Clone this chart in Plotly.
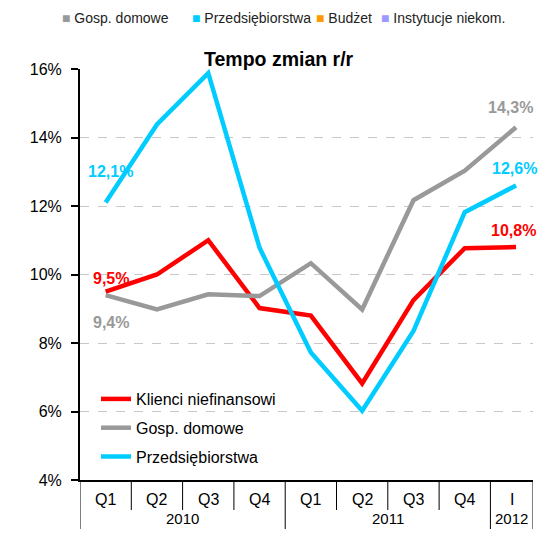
import plotly.graph_objects as go

quarters = ["Q1", "Q2", "Q3", "Q4", "Q1", "Q2", "Q3", "Q4", "I"]
years = ["2010", "2011", "2012"]
klienci = [9.5, 10.0, 11.0, 9.02, 8.8, 6.82, 9.25, 10.77, 10.8]
gosp = [9.4, 8.98, 9.42, 9.37, 10.33, 8.98, 12.17, 13.03, 14.3]
przeds = [12.1, 14.38, 15.88, 10.78, 7.72, 6.02, 8.35, 11.82, 12.6]

RED = "#FF0000"
GRAY = "#999999"
CYAN = "#00CCFF"
FONT = "Liberation Sans, Arial, sans-serif"

# page body has an 8px margin; figure is sized to fit the 546x537 window
W, H = 530, 521
L, R, T, B = 72, 5, 61, 49
PW, PH = W - L - R, H - T - B  # 453 x 411


def px(xr):  # reference-window x -> paper
    return (xr - 8 - L) / PW


def py(yr):  # reference-window y -> paper
    return (H - B - (yr - 8)) / PH


x = list(range(len(quarters)))
fig = go.Figure()
for name, vals, col in [("Klienci niefinansowi", klienci, RED),
                        ("Gosp. domowe", gosp, GRAY),
                        ("Przedsiębiorstwa", przeds, CYAN)]:
    fig.add_trace(go.Scatter(x=x, y=vals, mode="lines", name=name, legendgroup=name,
                             line=dict(color=col, width=4.5), hoverinfo="skip"))

XMAX = 8.33
fig.update_layout(
    width=W, height=H,
    margin=dict(l=L, r=R, t=T, b=B),
    paper_bgcolor="white", plot_bgcolor="white",
    font=dict(family=FONT, color="black"),
    showlegend=True,
    legend=dict(x=px(96), y=py(382), xanchor="left", yanchor="top", bgcolor="rgba(0,0,0,0)",
                font=dict(size=16, family=FONT), tracegroupgap=5, itemwidth=30),
    xaxis=dict(range=[-0.5, XMAX], showticklabels=False, showgrid=False, zeroline=False,
               showline=True, linecolor="black", linewidth=2, ticks="", fixedrange=True),
    yaxis=dict(range=[4, 16], dtick=2, tickformat=".0f", ticksuffix="%",
               showgrid=True, gridcolor="#C8C8C8", griddash="dash", gridwidth=1,
               zeroline=False, showline=True, linecolor="black", linewidth=2,
               ticks="outside", ticklen=7, tickcolor="black", tickwidth=1.5,
               ticklabelstandoff=6,
               tickfont=dict(size=16, family=FONT)),
)

shapes = []
annotations = []
for i, q in enumerate(quarters):
    xc = i if i < 8 else (7.5 + XMAX) / 2
    annotations.append(dict(x=xc, y=py(499), xref="x", yref="paper", text=q, showarrow=False,
                            font=dict(size=16, family=FONT), xanchor="center", yanchor="middle"))
year_centers = [(1.5, years[0]), (5.5, years[1]), ((7.5 + XMAX) / 2, years[2])]
for xc, yr in year_centers:
    annotations.append(dict(x=xc, y=py(529), xref="x", yref="paper", text=yr, showarrow=False,
                            font=dict(size=15, family=FONT), xanchor="center", yanchor="bottom"))
for b in [0.5, 1.5, 2.5, 4.5, 5.5, 6.5]:
    shapes.append(dict(type="line", x0=b, x1=b, xref="x", y0=0, y1=py(510), yref="paper",
                       line=dict(color="black", width=1)))
for b in [-0.5, 3.5, 7.5, XMAX]:
    shapes.append(dict(type="line", x0=b, x1=b, xref="x", y0=0, y1=py(545), yref="paper",
                       line=dict(color="black", width=1)))

# data labels (dx, dy in pixels relative to point; dy positive = down)
lab = [
    (0, przeds[0], "12,1%", CYAN, 5, -31),
    (0, klienci[0], "9,5%", RED, 5, -13),
    (0, gosp[0], "9,4%", GRAY, 5, 27),
    (8, gosp[8], "14,3%", GRAY, -6, -20),
    (8, przeds[8], "12,6%", CYAN, -2, -17),
    (8, klienci[8], "10,8%", RED, -3, -17),
]
for xi, yv, t, col, dx, dy in lab:
    annotations.append(dict(x=xi, y=yv, xref="x", yref="y", text="<b>" + t + "</b>",
                            showarrow=False, xshift=dx, yshift=-dy,
                            font=dict(size=16, color=col, family=FONT),
                            xanchor="center", yanchor="middle"))

# title
annotations.append(dict(x=px(279), y=py(59), xref="paper", yref="paper",
                        text="<b>Tempo zmian r/r</b>", showarrow=False,
                        font=dict(size=19.5, family=FONT), xanchor="center", yanchor="middle"))

# top legend
top = [("Gosp. domowe", GRAY, 60), ("Przedsiębiorstwa", CYAN, 190),
       ("Budżet", "#FF9900", 314), ("Instytucje niekom.", "#9999FF", 379)]
for name, col, xr in top:
    annotations.append(dict(x=px(xr), y=py(18), xref="paper", yref="paper",
                            text="<span style='color:%s'>■</span> %s" % (col, name),
                            showarrow=False, xanchor="left", yanchor="middle",
                            font=dict(size=14, family=FONT, color="#222222")))

fig.update_layout(shapes=shapes, annotations=annotations)
fig.write_html("out.html")
